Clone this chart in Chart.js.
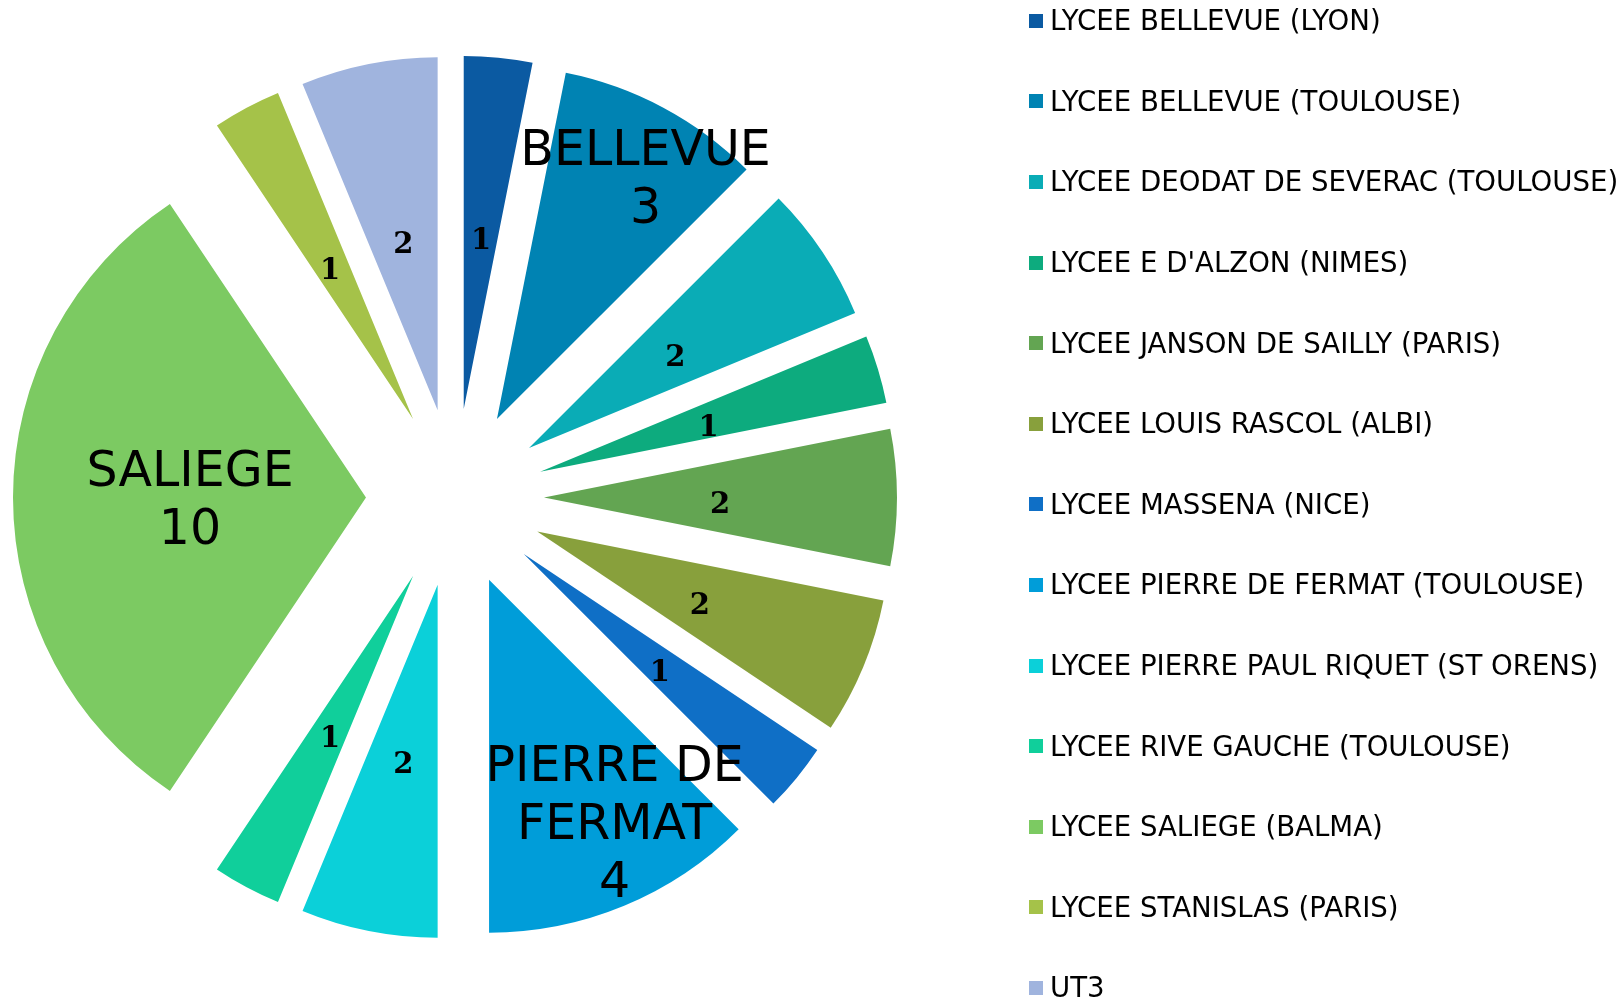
<!DOCTYPE html>
<html>
<head>
<meta charset="utf-8">
<script src="https://cdn.jsdelivr.net/npm/chart.js@4.4.1/dist/chart.umd.min.js"></script>
<style>
html, body { margin: 0; padding: 0; background: #ffffff; }
#wrap { position: relative; width: 1622px; height: 999px; overflow: hidden; }
#chartBox { position: absolute; left: 0; top: 0; width: 1622px; height: 999px; }
#legend { position: absolute; left: 1029px; top: 0; font-family: "DejaVu Sans", Verdana, sans-serif; font-size: 27.6px; color: #000; }
.item { position: absolute; left: 0; height: 32px; display: flex; align-items: center; white-space: nowrap; }
.box { width: 14px; height: 14px; margin-right: 7px; flex: none; }
</style>
</head>
<body>
<div id="wrap">
  <div id="chartBox"><canvas id="c"></canvas></div>
  <div id="legend"></div>
</div>
<script>
// ---- data ----
const categories = [
  "LYCEE BELLEVUE (LYON)",
  "LYCEE BELLEVUE (TOULOUSE)",
  "LYCEE DEODAT DE SEVERAC (TOULOUSE)",
  "LYCEE E D'ALZON (NIMES)",
  "LYCEE JANSON DE SAILLY (PARIS)",
  "LYCEE LOUIS RASCOL (ALBI)",
  "LYCEE MASSENA (NICE)",
  "LYCEE PIERRE DE FERMAT (TOULOUSE)",
  "LYCEE PIERRE PAUL RIQUET (ST ORENS)",
  "LYCEE RIVE GAUCHE (TOULOUSE)",
  "LYCEE SALIEGE (BALMA)",
  "LYCEE STANISLAS (PARIS)",
  "UT3"
];
const values = [1, 3, 2, 1, 2, 2, 1, 4, 2, 1, 10, 1, 2];
const shortNames = ["", "BELLEVUE", "", "", "", "", "", "PIERRE DE\nFERMAT", "", "", "SALIEGE", "", ""];
const colors = [
  "#0B5AA2", "#0083B3", "#0AACB6", "#0DAB7E", "#63A552", "#88A03C", "#0F6FC6",
  "#009DD9", "#0BD0D9", "#10CF9B", "#7CCA62", "#A5C249", "#A0B4DE"
];

// ---- styling / layout parameters ----
const EXPLODE = 89;          // radial explosion distance of every slice (px)
const SMALL_LABEL_R = 176;   // distance of the small value labels from the slice tip
const SMALL_LABEL_DY = 8;
const BIG_LABEL_DY = 5;
const BIG_LABEL_POS = { 1: { r: 285, shift: 3.3 }, 7: { r: 272, shift: -5 }, 10: { r: 176, shift: 0 } };

const explodePlugin = {
  id: 'explode',
  beforeDatasetDraw(chart, args) {
    args.meta.data.forEach(arc => {
      const mid = (arc.startAngle + arc.endAngle) / 2;
      arc._ox = arc.x; arc._oy = arc.y;
      arc.x += Math.cos(mid) * EXPLODE;
      arc.y += Math.sin(mid) * EXPLODE;
    });
  },
  afterDatasetDraw(chart, args) {
    args.meta.data.forEach(arc => { arc.x = arc._ox; arc.y = arc._oy; });
  }
};

const labelPlugin = {
  id: 'sliceLabels',
  afterDatasetsDraw(chart) {
    const ctx = chart.ctx;
    const meta = chart.getDatasetMeta(0);
    const vals = chart.data.datasets[0].data;
    ctx.save();
    ctx.fillStyle = '#000';
    ctx.textAlign = 'center';
    ctx.textBaseline = 'middle';
    meta.data.forEach((arc, i) => {
      const mid = (arc.startAngle + arc.endAngle) / 2;
      const tipX = arc.x + Math.cos(mid) * EXPLODE;
      const tipY = arc.y + Math.sin(mid) * EXPLODE;
      const big = BIG_LABEL_POS[i];
      if (big && shortNames[i]) {
        const a = mid + big.shift * Math.PI / 180;
        const x = tipX + Math.cos(a) * big.r;
        const y = tipY + Math.sin(a) * big.r + BIG_LABEL_DY;
        const lines = shortNames[i].split("\n").concat([String(vals[i])]);
        const lh = 58;
        ctx.font = '49px "DejaVu Sans", Verdana, sans-serif';
        lines.forEach((t, k) => {
          ctx.fillText(t, x, y + (k - (lines.length - 1) / 2) * lh);
        });
      } else {
        const x = tipX + Math.cos(mid) * SMALL_LABEL_R;
        const y = tipY + Math.sin(mid) * SMALL_LABEL_R + SMALL_LABEL_DY;
        ctx.font = 'bold 29px "DejaVu Serif", Georgia, serif';
        ctx.fillText(String(vals[i]), x, y);
      }
    });
    ctx.restore();
  }
};

const chart = new Chart(document.getElementById('c'), {
  type: 'pie',
  data: {
    labels: categories,
    datasets: [{
      data: values,
      backgroundColor: colors,
      borderWidth: 0
    }]
  },
  options: {
    responsive: true,
    maintainAspectRatio: false,
    animation: false,
    events: [],
    radius: 353,
    layout: { padding: { left: 0, top: 0, right: 712, bottom: 4 } },
    plugins: {
      legend: { display: false },
      tooltip: { enabled: false }
    }
  },
  plugins: [explodePlugin, labelPlugin]
});

// ---- HTML legend built from the chart's own legend items ----
const legendEl = document.getElementById('legend');
const items = Chart.overrides.pie.plugins.legend.labels.generateLabels(chart);
items.forEach((it, i) => {
  const row = document.createElement('div');
  row.className = 'item';
  row.style.top = (20.7 + i * 80.6 - 16) + 'px';
  const box = document.createElement('span');
  box.className = 'box';
  box.style.background = it.fillStyle;
  const txt = document.createElement('span');
  txt.textContent = it.text;
  row.appendChild(box);
  row.appendChild(txt);
  legendEl.appendChild(row);
});
</script>
</body>
</html>
